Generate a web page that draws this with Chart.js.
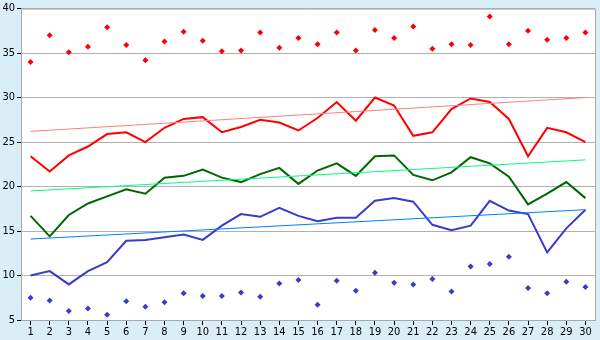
<!DOCTYPE html>
<html>
<head>
  <title>Chart</title>
  <script src="https://cdn.jsdelivr.net/npm/chart.js"></script>
  <style>
    body {
      margin: 0;
      padding: 0;
      background-color: #d9eef6;
    }

    #chart-container {
      width: 600px;
      height: 340px;
    }
  </style>
</head>
<body>

  <div id="chart-container">
    <canvas id="myChart"></canvas>
  </div>

  <script>
    const labels = Array.from({ length: 30 }, (_, i) => String(i + 1));

    // upper scatter (red diamonds)
    const redPoints = [34.0, 37.0, 35.1, 35.7, 37.9, 35.9, 34.2, 36.3, 37.4, 36.4,
                       35.2, 35.3, 37.3, 35.6, 36.7, 36.0, 37.3, 35.3, 37.6, 36.7,
                       38.0, 35.5, 36.0, 35.9, 39.1, 36.0, 37.5, 36.5, 36.7, 37.3];
    const redLine = [23.4, 21.7, 23.5, 24.5, 25.9, 26.1, 25.0, 26.6, 27.6, 27.8,
                     26.1, 26.7, 27.5, 27.2, 26.3, 27.7, 29.5, 27.4, 30.0, 29.1,
                     25.7, 26.1, 28.7, 29.9, 29.5, 27.6, 23.4, 26.6, 26.1, 25.0];
    const greenLine = [16.7, 14.4, 16.8, 18.1, 18.9, 19.7, 19.2, 21.0, 21.2, 21.9,
                       21.0, 20.5, 21.4, 22.1, 20.3, 21.8, 22.6, 21.2, 23.4, 23.5,
                       21.3, 20.7, 21.6, 23.3, 22.6, 21.1, 18.0, 19.2, 20.5, 18.7];
    const blueLine = [10.0, 10.5, 9.0, 10.5, 11.5, 13.9, 14.0, 14.3, 14.6, 14.0,
                      15.6, 16.9, 16.6, 17.6, 16.7, 16.1, 16.5, 16.5, 18.4, 18.7,
                      18.3, 15.7, 15.1, 15.6, 18.4, 17.3, 16.9, 12.6, 15.3, 17.4];
    // lower scatter (blue diamonds)
    const bluePoints = [7.5, 7.2, 6.0, 6.3, 5.6, 7.1, 6.5, 7.0, 8.0, 7.7,
                        7.7, 8.1, 7.6, 9.1, 9.5, 6.7, 9.4, 8.3, 10.3, 9.2,
                        9.0, 9.6, 8.2, 11.0, 11.3, 12.1, 8.6, 8.0, 9.3, 8.7];

    // trend lines: start and end values only
    const redTrend = [26.2, 30.0];
    const greenTrend = [19.5, 23.0];
    const blueTrend = [14.1, 17.4];

    function ends(pair) {
      const arr = new Array(labels.length).fill(null);
      arr[0] = pair[0];
      arr[labels.length - 1] = pair[1];
      return arr;
    }

    const plotFrame = {
      id: 'plotFrame',
      beforeDraw(chart) {
        const { ctx, chartArea: a } = chart;
        ctx.save();
        ctx.fillStyle = '#ffffff';
        ctx.fillRect(a.left, a.top, a.right - a.left, a.bottom - a.top);
        ctx.restore();
      },
      afterDraw(chart) {
        const { ctx, chartArea: a } = chart;
        ctx.save();
        ctx.strokeStyle = '#a8a8a8';
        ctx.lineWidth = 1;
        ctx.beginPath();
        ctx.moveTo(a.left, a.top + 0.5);
        ctx.lineTo(a.right + 0.5, a.top + 0.5);
        ctx.lineTo(a.right + 0.5, a.bottom);
        ctx.stroke();
        ctx.restore();
      }
    };

    const font = { family: "'DejaVu Sans Condensed', 'Liberation Sans', sans-serif", size: 11 };

    const ctx = document.getElementById('myChart').getContext('2d');
    const chart = new Chart(ctx, {
      type: 'line',
      data: {
        labels: labels,
        datasets: [
          { data: ends(redTrend), borderColor: '#ff8080', borderWidth: 1, pointRadius: 0, spanGaps: true },
          { data: ends(greenTrend), borderColor: '#00ff80', borderWidth: 1, pointRadius: 0, spanGaps: true },
          { data: ends(blueTrend), borderColor: '#0080ff', borderWidth: 1, pointRadius: 0, spanGaps: true },
          { data: redLine, borderColor: '#ff0000', borderWidth: 2, pointRadius: 0, tension: 0 },
          { data: greenLine, borderColor: '#006600', borderWidth: 2, pointRadius: 0, tension: 0 },
          { data: blueLine, borderColor: '#3a3acc', borderWidth: 2, pointRadius: 0, tension: 0 },
          { data: redPoints, showLine: false, pointStyle: 'rectRot', pointRadius: 3,
            pointBackgroundColor: '#ff0000', pointBorderColor: '#ff0000', pointBorderWidth: 0 },
          { data: bluePoints, showLine: false, pointStyle: 'rectRot', pointRadius: 3,
            pointBackgroundColor: '#3a3acc', pointBorderColor: '#3a3acc', pointBorderWidth: 0 }
        ]
      },
      options: {
        responsive: true,
        maintainAspectRatio: false,
        animation: false,
        layout: { padding: { top: 5, right: 5, left: 0, bottom: 0 } },
        plugins: {
          legend: { display: false },
          tooltip: { enabled: false }
        },
        scales: {
          x: {
            offset: true,
            grid: {
              offset: false,
              drawOnChartArea: false,
              drawTicks: true,
              tickLength: 5,
              tickColor: '#000000'
            },
            border: { color: '#a8a8a8' },
            ticks: { color: '#000000', font: font, padding: 1, maxRotation: 0, autoSkip: false },
            afterFit(scale) { scale.height = 20; }
          },
          y: {
            min: 5,
            max: 40,
            grid: {
              color: '#b0b0b0',
              drawTicks: true,
              tickLength: 4,
              tickColor: '#000000'
            },
            border: { color: '#a8a8a8' },
            ticks: { stepSize: 5, color: '#000000', font: font, padding: 2 },
            afterFit(scale) { scale.width = 21; }
          }
        }
      },
      plugins: [plotFrame]
    });
  </script>

</body>
</html>
